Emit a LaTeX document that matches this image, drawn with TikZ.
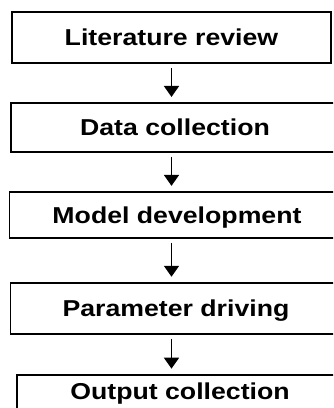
\documentclass[tikz,border=0pt]{standalone}
\usepackage{fontspec}
\newfontfamily\boxfont[FakeStretch=1.16]{Liberation Sans}
\usetikzlibrary{arrows.meta, positioning}
\tikzstyle{stage} = [rectangle, draw=black, line width=1.9pt, minimum width=321pt, minimum height=50pt, text height=16.5pt, text depth=0pt, font=\boxfont\bfseries\fontsize{23}{26}\selectfont]
\tikzstyle{arrow} = [line width=1.8pt, -{Triangle[length=11pt,width=15pt]}, shorten <=4pt, shorten >=5pt]

\begin{document}
\begin{tikzpicture}[x=1pt, y=-1pt]
\clip (0,0) rectangle (333,408);

% Nodes
\node (lit) [stage, minimum width=319pt, minimum height=51pt] at (171.5,37.5) {Literature review};
\node (data) [stage, below=38pt of lit, xshift=3.5pt, minimum width=328pt, minimum height=49pt] {Data collection};
\node (model) [stage, below=38pt of data, xshift=2pt, minimum width=335pt, minimum height=46pt] {Model development};
\node (param) [stage, below=43pt of model, xshift=-1pt, minimum width=331pt, minimum height=51pt] {Parameter driving};
\node (output) [stage, below=39pt of param, xshift=4pt, minimum width=326pt, minimum height=50pt, text depth=16.5pt] {Output collection};

% Arrows
\draw [arrow] (lit.south) -- (lit.south |- data.north);
\draw [arrow] (data.south -| lit.south) -- (lit.south |- model.north);
\draw [arrow] (model.south -| lit.south) -- (lit.south |- param.north);
\draw [arrow] (param.south -| lit.south) -- (lit.south |- output.north);

\end{tikzpicture}
\end{document}
